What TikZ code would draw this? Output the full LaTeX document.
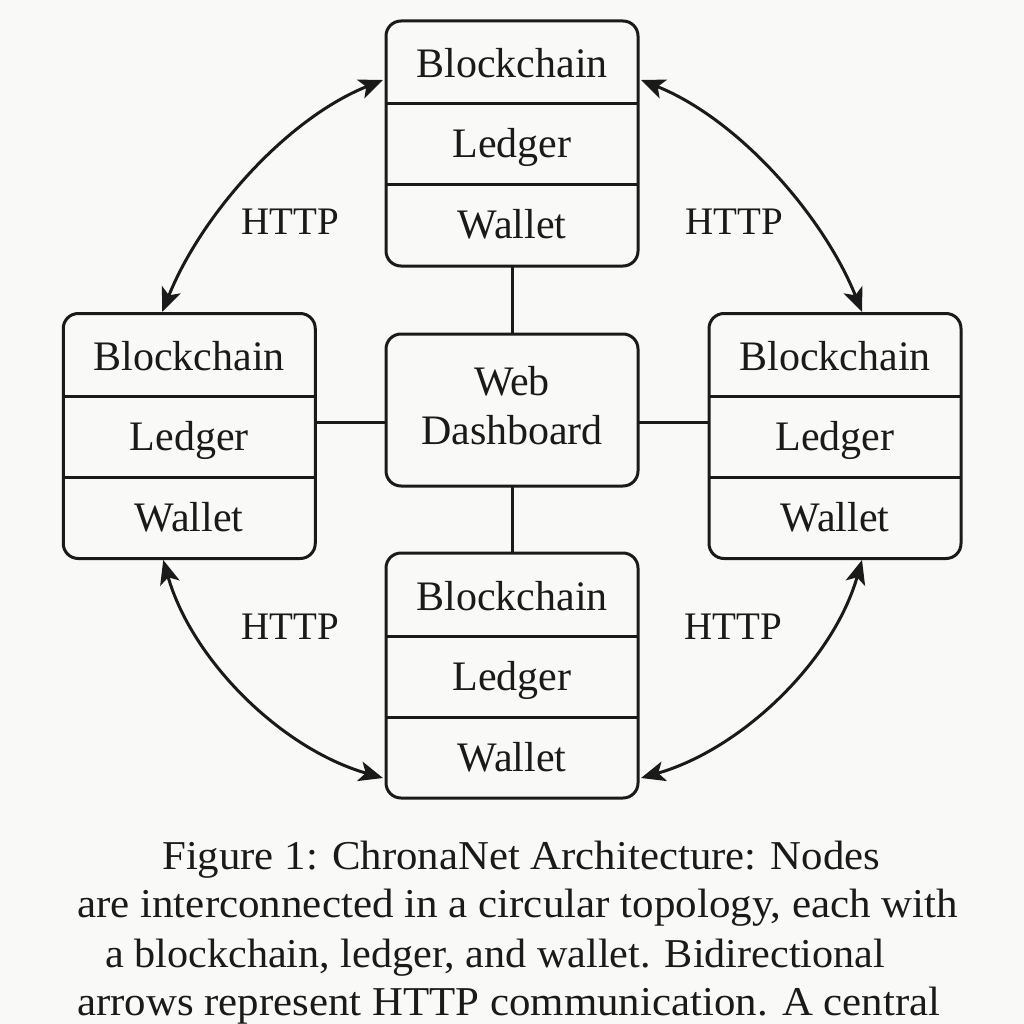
\documentclass[tikz,border=0pt]{standalone}
\usepackage{fontspec}
\setmainfont{Liberation Serif}
\usepackage{graphicx}
\usetikzlibrary{arrows.meta,calc}
\definecolor{bg}{HTML}{F9F9F7}
\definecolor{ink}{HTML}{1A1A1A}
\begin{document}
\begin{tikzpicture}[x=1pt,y=-1pt,
  modbox/.style={draw=ink, line width=3pt, rounded corners=15pt, minimum width=252pt, inner sep=0pt, outer sep=0pt},
  lbl/.style={font=\fontsize{42}{48}\selectfont, text=ink, inner sep=0pt, anchor=base},
  httplbl/.style={font=\fontsize{39}{44}\selectfont, text=ink, inner sep=0pt, anchor=base},
  captxt/.style={font=\fontsize{41}{46}\selectfont, text=ink, inner sep=0pt, anchor=base west},
  link/.style={draw=ink, line width=3pt},
  http/.style={draw=ink, line width=3pt, {Stealth[length=24pt,width=20pt,inset=6pt]}-{Stealth[length=24pt,width=20pt,inset=6pt]}}]
\fill[bg] (0,0) rectangle (1024,1024);
\useasboundingbox (0,0) rectangle (1024,1024);

% module boxes
\node[modbox, minimum height=245pt] (T) at (512,143.5) {};
\node[modbox, minimum height=245pt] (L) at (189.25,436) {};
\node[modbox, minimum height=245pt] (R) at (835,436) {};
\node[modbox, minimum height=245pt] (B) at (512,675.5) {};
\node[modbox, minimum height=152pt] (C) at (512,410) {};

\foreach \b in {T,L,R,B} {
  \draw[link] ($(\b.north west)+(0,83)$) -- ($(\b.north east)+(0,83)$);
  \draw[link] ($(\b.north west)+(0,164)$) -- ($(\b.north east)+(0,164)$);
  \node[lbl] (\b1) at ($(\b.north)+(0,57)$) {Blockchain};
  \node[lbl] (\b2) at ($(\b.north)+(0,137)$) {Ledger};
  \node[lbl] (\b3) at ($(\b.north)+(0,218)$) {Wallet};
}
\node[lbl] (C1) at ($(C.north)+(0,61)$) {Web};
\node[lbl] (C2) at ($(C.north)+(0,110)$) {Dashboard};

% straight connectors
\draw[link] (T.south) -- (C.north);
\draw[link] (C.south) -- (B.north);
\coordinate (cw) at ($(C.west)+(0,12)$);
\coordinate (ce) at ($(C.east)+(0,12)$);
\draw[link] (cw) -- (cw -| L.east);
\draw[link] (ce) -- (ce -| R.west);

% HTTP arrows
\coordinate (tlA) at ($(T.north west)+(-3,59)$);
\coordinate (tlB) at ($(L.north west)+(99,-1.5)$);
\coordinate (trA) at ($(T.north east)+(3,59)$);
\coordinate (trB) at ($(R.north east)+(-99,-1.5)$);
\coordinate (blA) at ($(L.south west)+(100,1.5)$);
\coordinate (blB) at ($(B.south west)+(-3,-20)$);
\coordinate (brA) at ($(R.south east)+(-99,1.5)$);
\coordinate (brB) at ($(B.south east)+(3,-20)$);
\draw[http] (tlA) .. controls +(-97,39) and +(39,-97) .. (tlB);
\draw[http] (trA) .. controls +(97,39) and +(-39,-97) .. (trB);
\draw[http] (blA) .. controls +(29,101) and +(-101,-29) .. (blB);
\draw[http] (brA) .. controls +(-29,101) and +(101,-29) .. (brB);

\node[httplbl] (h1) at (290,235) {HTTP};
\node[httplbl] (h2) at (734,235) {HTTP};
\node[httplbl] (h3) at (290,639) {HTTP};
\node[httplbl] (h4) at (733,639) {HTTP};

% caption
\node[captxt] (cap1) at (162,869) {\resizebox{718pt}{\height}{Figure 1: ChronaNet Architecture: Nodes}};
\node[captxt] (cap2) at (77,917) {\resizebox{881pt}{\height}{are interconnected in a circular topology, each with}};
\node[captxt] (cap3) at (105,967) {\resizebox{780pt}{\height}{a blockchain, ledger, and wallet. Bidirectional}};
\node[captxt] (cap4) at (77,1015) {\resizebox{863pt}{\height}{arrows represent HTTP communication. A central}};
\end{tikzpicture}
\end{document}
